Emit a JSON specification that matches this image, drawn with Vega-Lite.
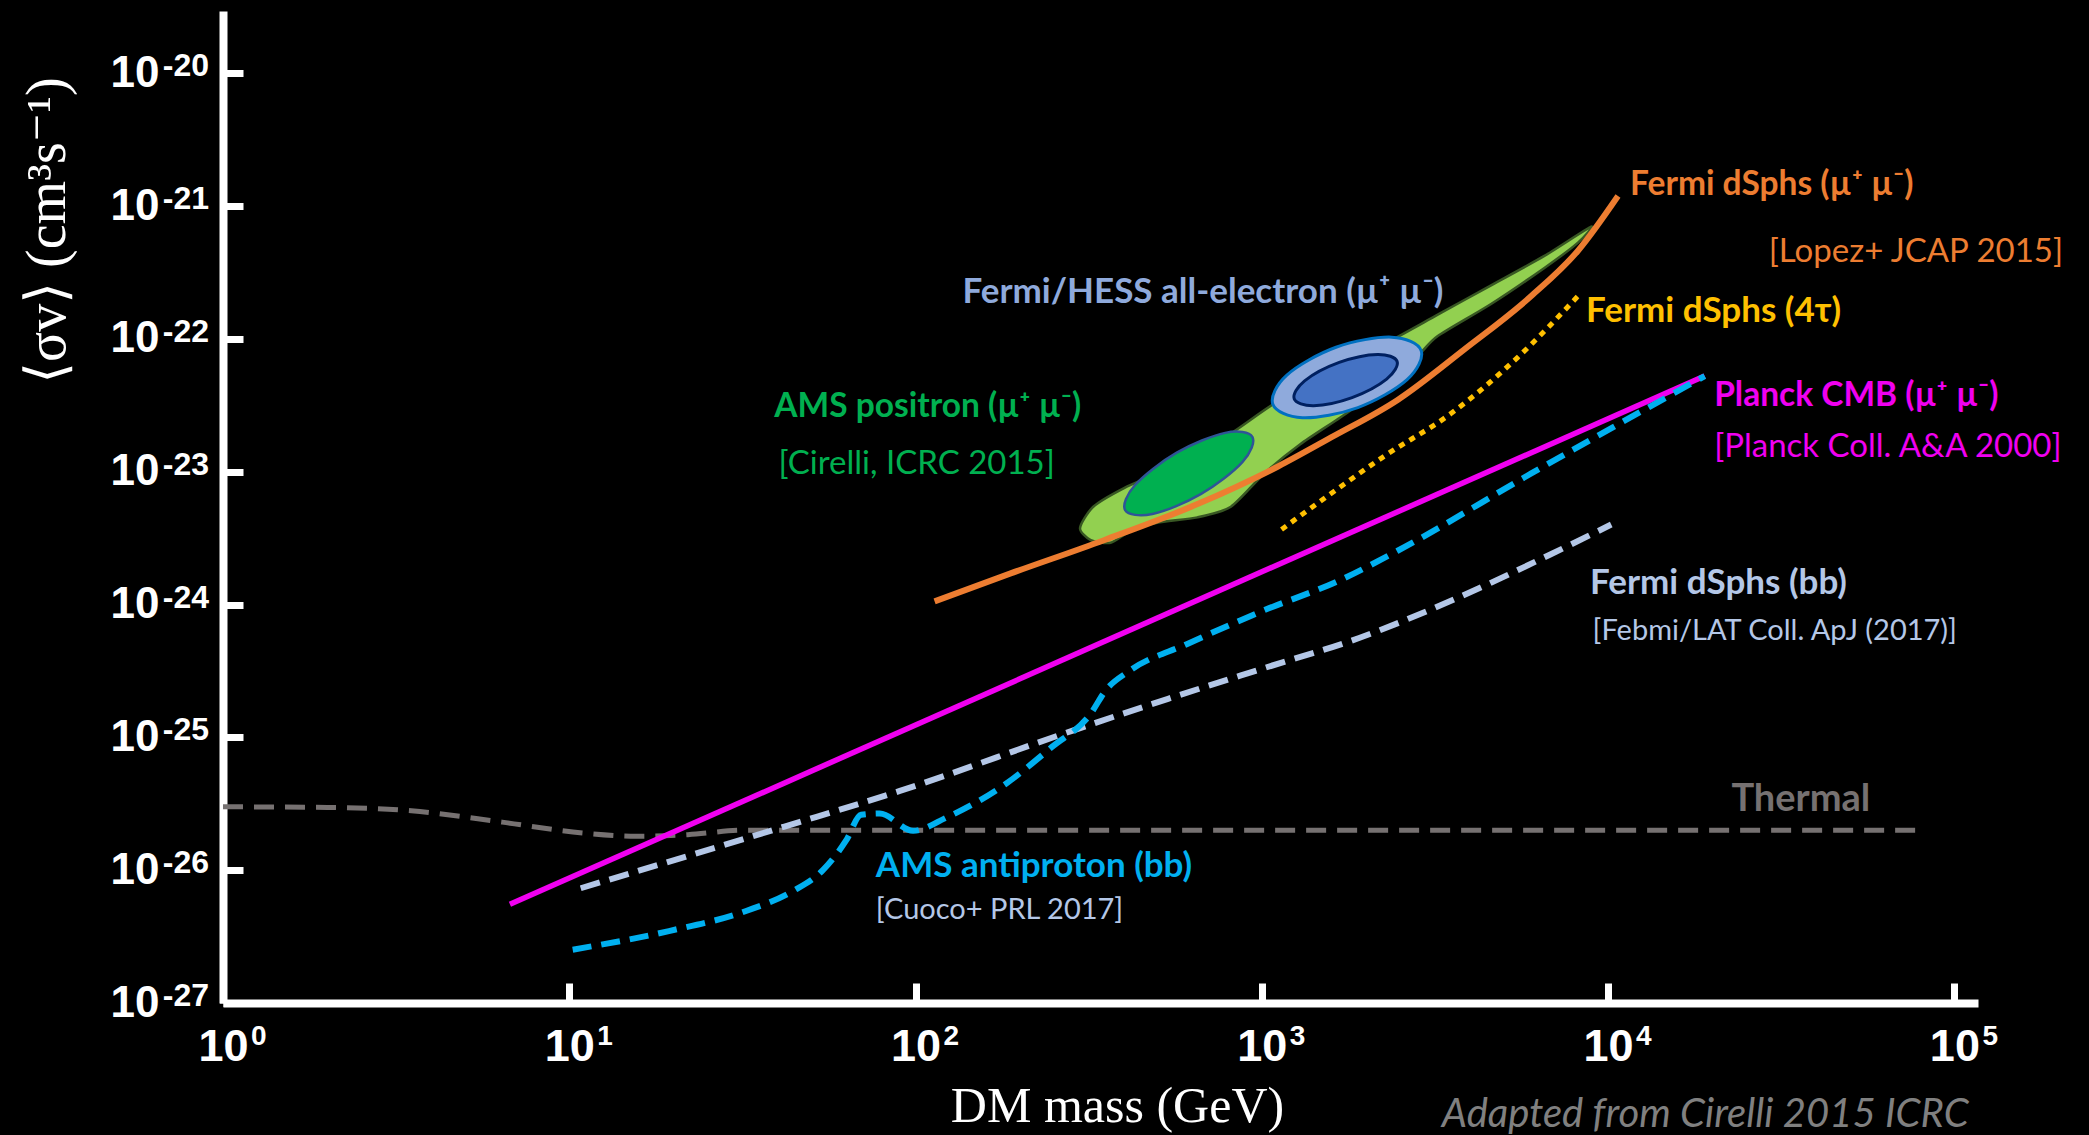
{
  "$schema": "https://vega.github.io/schema/vega-lite/v6.json",
  "width": 1755,
  "height": 992,
  "autosize": {"type": "none"},
  "padding": {"left": 223, "top": 11, "right": 111, "bottom": 132},
  "background": "#000000",
  "config": {"view": {"stroke": null}, "axis": {"grid": false}},
  "datasets": {
    "thermal": [
      {"m": 1, "sv": 3.0e-26}, {"m": 2, "sv": 2.97e-26}, {"m": 3.5, "sv": 2.8e-26}, {"m": 6.4, "sv": 2.3e-26},
      {"m": 11, "sv": 1.9e-26}, {"m": 15.6, "sv": 1.8e-26}, {"m": 22, "sv": 1.85e-26}, {"m": 32, "sv": 2.0e-26},
      {"m": 82000, "sv": 2.0e-26}
    ],
    "planck": [{"m": 6.74, "sv": 5.53e-27}, {"m": 19000, "sv": 5.25e-23}],
    "fermibb": [
      {"m": 10.79, "sv": 7.31e-27}, {"m": 41.6, "sv": 2.12e-26}, {"m": 90.1, "sv": 3.95e-26}, {"m": 283, "sv": 1.12e-25},
      {"m": 536, "sv": 1.95e-25}, {"m": 1007, "sv": 3.3e-25}, {"m": 1909, "sv": 5.6e-25}, {"m": 3614, "sv": 1.1e-24},
      {"m": 6855, "sv": 2.4e-24}, {"m": 10210, "sv": 4.0e-24}
    ],
    "pbar": [
      {"m": 10.23, "sv": 2.52e-27}, {"m": 19.4, "sv": 3.48e-27}, {"m": 32.4, "sv": 4.93e-27}, {"m": 44, "sv": 6.9e-27},
      {"m": 54, "sv": 1.0e-26}, {"m": 63.1, "sv": 1.68e-26}, {"m": 69.6, "sv": 2.61e-26}, {"m": 78.8, "sv": 2.67e-26},
      {"m": 98.4, "sv": 1.98e-26}, {"m": 122.8, "sv": 2.49e-26}, {"m": 181.6, "sv": 4.44e-26}, {"m": 247.7, "sv": 8.47e-26},
      {"m": 320.6, "sv": 1.51e-25}, {"m": 353.3, "sv": 2.24e-25}, {"m": 414.9, "sv": 3.17e-25}, {"m": 607, "sv": 5.03e-25},
      {"m": 1007, "sv": 8.97e-25}, {"m": 1686, "sv": 1.53e-24}, {"m": 2467, "sv": 2.54e-24}, {"m": 5998, "sv": 9.7e-24},
      {"m": 19010, "sv": 5.25e-23}
    ],
    "orange": [
      {"m": 113.5, "sv": 1.055e-24}, {"m": 188.2, "sv": 1.714e-24}, {"m": 350, "sv": 3.05e-24}, {"m": 652, "sv": 5.7e-24},
      {"m": 1110, "sv": 1.09e-23}, {"m": 1585, "sv": 1.81e-23}, {"m": 2467, "sv": 3.47e-23}, {"m": 3846, "sv": 8.34e-23},
      {"m": 5998, "sv": 2.1e-22}, {"m": 8185, "sv": 4.61e-22}, {"m": 10680, "sv": 1.19e-21}
    ],
    "yellow": [
      {"m": 1140, "sv": 3.67e-24}, {"m": 1585, "sv": 6.86e-24}, {"m": 2259, "sv": 1.31e-23}, {"m": 3523, "sv": 2.75e-23},
      {"m": 5483, "sv": 7.26e-23}, {"m": 8185, "sv": 2.1e-22}
    ],
    "blob": [
      {"i": 0, "m": 298.5, "sv": 3.76e-24}, {"i": 1, "m": 326, "sv": 5.45e-24}, {"i": 2, "m": 400, "sv": 7.53e-24},
      {"i": 3, "m": 499, "sv": 9.7e-24}, {"i": 4, "m": 624, "sv": 1.31e-23}, {"i": 5, "m": 814, "sv": 1.94e-23},
      {"i": 6, "m": 1081, "sv": 3.23e-23}, {"i": 7, "m": 1584, "sv": 5.75e-23}, {"i": 8, "m": 2259, "sv": 9.14e-23},
      {"i": 9, "m": 3221, "sv": 1.52e-22}, {"i": 10, "m": 4592, "sv": 2.53e-22}, {"i": 11, "m": 6546, "sv": 4.21e-22},
      {"i": 12, "m": 8933, "sv": 7.0e-22}, {"i": 13, "m": 8185, "sv": 5.3e-22}, {"i": 14, "m": 6546, "sv": 3.42e-22},
      {"i": 15, "m": 4592, "sv": 1.83e-22}, {"i": 16, "m": 3221, "sv": 1.05e-22}, {"i": 17, "m": 2844, "sv": 7.6e-23},
      {"i": 18, "m": 2259, "sv": 4.37e-23}, {"i": 19, "m": 1685, "sv": 2.56e-23}, {"i": 20, "m": 1291, "sv": 1.61e-23},
      {"i": 21, "m": 1016, "sv": 9.7e-24}, {"i": 22, "m": 814, "sv": 5.45e-24}, {"i": 23, "m": 652, "sv": 4.53e-24},
      {"i": 24, "m": 499, "sv": 4.13e-24}, {"i": 25, "m": 418, "sv": 3.59e-24}, {"i": 26, "m": 366, "sv": 2.92e-24},
      {"i": 27, "m": 320.5, "sv": 3.05e-24}
    ],
    "ellG": [
      {"i": 0, "m": 939, "sv": 1.83e-23}, {"i": 1, "m": 878.5, "sv": 1.18e-23}, {"i": 2, "m": 666, "sv": 6.77e-24},
      {"i": 3, "m": 483, "sv": 4.8e-24}, {"i": 4, "m": 403, "sv": 5.14e-24}, {"i": 5, "m": 431, "sv": 7.97e-24},
      {"i": 6, "m": 568, "sv": 1.39e-23}, {"i": 7, "m": 784, "sv": 1.96e-23}
    ],
    "ellB1": [
      {"i": 0, "m": 2884, "sv": 8.18e-23}, {"i": 1, "m": 2627, "sv": 4.93e-23}, {"i": 2, "m": 1894, "sv": 3.04e-23},
      {"i": 3, "m": 1310, "sv": 2.55e-23}, {"i": 4, "m": 1076, "sv": 3.22e-23}, {"i": 5, "m": 1181, "sv": 5.34e-23},
      {"i": 6, "m": 1638, "sv": 8.65e-23}, {"i": 7, "m": 2370, "sv": 1.03e-22}
    ],
    "ellB2": [
      {"i": 0, "m": 2458, "sv": 6.77e-23}, {"i": 1, "m": 2293, "sv": 4.97e-23}, {"i": 2, "m": 1822, "sv": 3.61e-23},
      {"i": 3, "m": 1412, "sv": 3.14e-23}, {"i": 4, "m": 1240, "sv": 3.54e-23}, {"i": 5, "m": 1329, "sv": 4.83e-23},
      {"i": 6, "m": 1673, "sv": 6.65e-23}, {"i": 7, "m": 2159, "sv": 7.64e-23}
    ],
    "ysup": [
      {"m": 1, "sv": 1e-20, "t": "-20"}, {"m": 1, "sv": 1e-21, "t": "-21"}, {"m": 1, "sv": 1e-22, "t": "-22"},
      {"m": 1, "sv": 1e-23, "t": "-23"}, {"m": 1, "sv": 1e-24, "t": "-24"}, {"m": 1, "sv": 1e-25, "t": "-25"},
      {"m": 1, "sv": 1e-26, "t": "-26"}, {"m": 1, "sv": 1e-27, "t": "-27"}
    ],
    "xsup": [
      {"m": 1, "sv": 1e-27, "t": "0"}, {"m": 10, "sv": 1e-27, "t": "1"}, {"m": 100, "sv": 1e-27, "t": "2"},
      {"m": 1000, "sv": 1e-27, "t": "3"}, {"m": 10000, "sv": 1e-27, "t": "4"}, {"m": 100000, "sv": 1e-27, "t": "5"}
    ],
    "boldA": [
      {"t": "Fermi dSphs (µ⁺ µ⁻)", "m": 11570, "sv": 1.44e-21, "g": "orange"},
      {"t": "AMS positron (µ⁺ µ⁻)", "m": 39.1, "sv": 3.08e-23, "g": "green"},
      {"t": "Planck CMB (µ⁺ µ⁻)", "m": 20240, "sv": 3.72e-23, "g": "magenta"}
    ],
    "boldB": [
      {"t": "Fermi/HESS all-electron (µ⁺ µ⁻)", "m": 136.7, "sv": 2.25e-22, "g": "hess"},
      {"t": "Fermi dSphs (4τ)", "m": 8630, "sv": 1.63e-22, "g": "yellow"},
      {"t": "Fermi dSphs (bb)", "m": 8870, "sv": 1.46e-24, "g": "bb"},
      {"t": "AMS antiproton (bb)", "m": 76.8, "sv": 1.08e-26, "g": "cyan"}
    ],
    "normalA": [
      {"t": "[Lopez+ JCAP 2015]", "m": 29100, "sv": 4.51e-22, "g": "orange"},
      {"t": "[Cirelli, ICRC 2015]", "m": 40.2, "sv": 1.14e-23, "g": "green"},
      {"t": "[Planck Coll. A&A 2000]", "m": 20240, "sv": 1.54e-23, "g": "magenta"}
    ],
    "normalB": [
      {"t": "[Febmi/LAT Coll. ApJ  (2017)]", "m": 9020, "sv": 6.34e-25, "g": "bb"},
      {"t": "[Cuoco+ PRL 2017]", "m": 76.8, "sv": 5.05e-27, "g": "bb"}
    ],
    "thermalText": [{"t": "Thermal", "m": 22700, "sv": 3.36e-26, "g": "thermal"}],
    "noteText": [{"t": "Adapted from Cirelli 2015 ICRC", "m": 3310, "sv": 1.43e-28, "g": "note"}]
  },
  "encoding": {
    "x": {
      "field": "m", "type": "quantitative",
      "scale": {"type": "log", "domain": [1, 117000], "nice": false},
      "axis": {
        "values": [1, 10, 100, 1000, 10000, 100000],
        "labelExpr": "'10'",
        "domainColor": "#ffffff", "domainWidth": 8,
        "tickColor": "#ffffff", "tickWidth": 7, "tickSize": -20,
        "labelColor": "#ffffff", "labelFont": "Liberation Sans", "labelFontSize": 45, "labelFontWeight": "bold",
        "labelPadding": 77, "labelBaseline": "alphabetic", "labelAlign": "center", "labelFlush": false, "labelOverlap": false,
        "title": "DM mass (GeV)", "titleFont": "Liberation Serif", "titleFontSize": 50, "titleFontWeight": "normal",
        "titleColor": "#ffffff", "titleX": 894, "titleY": 103, "titleAlign": "center", "titleBaseline": "middle"
      }
    },
    "y": {
      "field": "sv", "type": "quantitative",
      "scale": {"type": "log", "domain": [1e-27, 2.94e-20], "nice": false},
      "axis": {
        "values": [1e-27, 1e-26, 1e-25, 1e-24, 1e-23, 1e-22, 1e-21, 1e-20],
        "labelExpr": "'10'",
        "domainColor": "#ffffff", "domainWidth": 8,
        "tickColor": "#ffffff", "tickWidth": 7, "tickSize": -20,
        "labelColor": "#ffffff", "labelFont": "Liberation Sans", "labelFontSize": 44, "labelFontWeight": "bold",
        "labelPadding": 84, "labelFlush": false, "labelOverlap": false, "labelBaseline": "middle",
        "title": "⟨σv⟩ (cm³s⁻¹)", "titleFont": "Liberation Serif, DejaVu Serif", "titleFontSize": 56, "titleFontWeight": "normal",
        "titleColor": "#ffffff", "titleX": -176, "titleY": 219, "titleAngle": -90, "titleAlign": "center", "titleBaseline": "middle"
      }
    }
  },
  "layer": [
    {"data": {"name": "thermal"}, "mark": {"type": "line", "color": "#767171", "strokeWidth": 5, "strokeDash": [20, 11], "interpolate": "monotone"}},
    {"data": {"name": "blob"}, "mark": {"type": "line", "fill": "#92D050", "stroke": "#385723", "strokeWidth": 2.5, "interpolate": "cardinal-closed", "tension": 0.3}, "encoding": {"order": {"field": "i", "type": "quantitative"}}},
    {"data": {"name": "ellG"}, "mark": {"type": "line", "fill": "#00B050", "stroke": "#2F5597", "strokeWidth": 2.5, "interpolate": "cardinal-closed"}, "encoding": {"order": {"field": "i", "type": "quantitative"}}},
    {"data": {"name": "ellB1"}, "mark": {"type": "line", "fill": "#8FAADC", "stroke": "#0070C0", "strokeWidth": 3, "interpolate": "cardinal-closed"}, "encoding": {"order": {"field": "i", "type": "quantitative"}}},
    {"data": {"name": "ellB2"}, "mark": {"type": "line", "fill": "#4472C4", "stroke": "#002060", "strokeWidth": 3, "interpolate": "cardinal-closed"}, "encoding": {"order": {"field": "i", "type": "quantitative"}}},
    {"data": {"name": "planck"}, "mark": {"type": "line", "color": "#F000F0", "strokeWidth": 5.5}},
    {"data": {"name": "fermibb"}, "mark": {"type": "line", "color": "#B4C7E7", "strokeWidth": 6, "strokeDash": [20, 10], "interpolate": "monotone"}},
    {"data": {"name": "pbar"}, "mark": {"type": "line", "color": "#00B0F0", "strokeWidth": 6, "strokeDash": [19, 10], "interpolate": "monotone"}},
    {"data": {"name": "yellow"}, "mark": {"type": "line", "color": "#FFC000", "strokeWidth": 5, "strokeDash": [6, 6], "interpolate": "monotone"}},
    {"data": {"name": "orange"}, "mark": {"type": "line", "color": "#ED7D31", "strokeWidth": 6, "interpolate": "monotone"}},
    {
      "data": {"name": "ysup"},
      "mark": {"type": "text", "font": "Liberation Sans", "fontSize": 32, "fontWeight": "bold", "color": "#ffffff", "align": "right", "baseline": "alphabetic", "dx": -14, "dy": 3},
      "encoding": {"text": {"field": "t"}}
    },
    {
      "data": {"name": "xsup"},
      "mark": {"type": "text", "font": "Liberation Sans", "fontSize": 28, "fontWeight": "bold", "color": "#ffffff", "align": "left", "baseline": "alphabetic", "dx": 28, "dy": 42},
      "encoding": {"text": {"field": "t"}}
    },
    {
      "data": {"name": "boldA"},
      "mark": {"type": "text", "font": "Lato", "fontSize": 33.5, "fontWeight": "bold", "align": "left", "baseline": "middle"},
      "encoding": {
        "text": {"field": "t"},
        "color": {"field": "g", "type": "nominal", "legend": null,
          "scale": {"domain": ["orange", "hess", "yellow", "green", "magenta", "bb", "cyan", "thermal", "note"],
                    "range": ["#ED7D31", "#8FAADC", "#FFC000", "#00B050", "#F000F0", "#B4C7E7", "#00B0F0", "#767171", "#808080"]}}
      }
    },
    {
      "data": {"name": "boldB"},
      "mark": {"type": "text", "font": "Lato", "fontSize": 35, "fontWeight": "bold", "align": "left", "baseline": "middle"},
      "encoding": {"text": {"field": "t"}, "color": {"field": "g", "type": "nominal", "legend": null}}
    },
    {
      "data": {"name": "normalA"},
      "mark": {"type": "text", "font": "Lato", "fontSize": 33, "fontWeight": "normal", "align": "left", "baseline": "middle"},
      "encoding": {"text": {"field": "t"}, "color": {"field": "g", "type": "nominal", "legend": null}}
    },
    {
      "data": {"name": "normalB"},
      "mark": {"type": "text", "font": "Lato", "fontSize": 29, "fontWeight": "normal", "align": "left", "baseline": "middle"},
      "encoding": {"text": {"field": "t"}, "color": {"field": "g", "type": "nominal", "legend": null}}
    },
    {
      "data": {"name": "thermalText"},
      "mark": {"type": "text", "font": "Lato", "fontSize": 38, "fontWeight": "bold", "align": "left", "baseline": "middle"},
      "encoding": {"text": {"field": "t"}, "color": {"field": "g", "type": "nominal", "legend": null}}
    },
    {
      "data": {"name": "noteText"},
      "mark": {"type": "text", "font": "Lato", "fontSize": 40, "fontStyle": "italic", "align": "left", "baseline": "middle"},
      "encoding": {"text": {"field": "t"}, "color": {"field": "g", "type": "nominal", "legend": null}}
    }
  ]
}
